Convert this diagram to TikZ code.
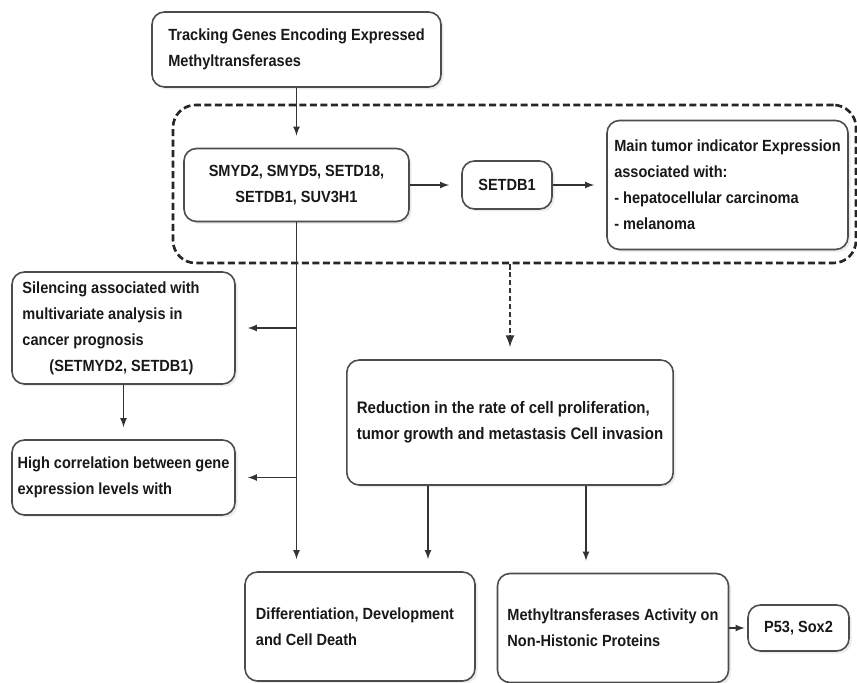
\documentclass[tikz,border=0pt]{standalone}
\usepackage{fontspec}
\setmainfont{Liberation Sans}[FakeStretch=0.9]
\usetikzlibrary{shadows}
\tikzset{
  box/.style={draw=black!70, line width=0.9pt, rounded corners=0.25cm, fill=white, align=left,
    inner xsep=0.2cm, text=black!90, font=\bfseries\fontsize{9.2}{14.8}\selectfont,
    drop shadow={shadow xshift=0.05cm, shadow yshift=-0.05cm, opacity=0.15}},
  group/.style={draw=black!85, line width=1.5pt, dash pattern=on 4pt off 2pt, rounded corners=0.45cm, inner sep=0pt},
  link/.style={draw, black!80, line width=0.8pt, ->, >=latex, shorten >=0.24cm}
}
\begin{document}
\begin{tikzpicture}
\useasboundingbox (0,0) rectangle (17.14,-13.66);
\node[group, minimum width=13.66cm, minimum height=3.16cm] (0) at (10.29,-3.68) {};
\node[box, minimum width=5.78cm, minimum height=1.5cm] (1) at (5.93,-0.99) {Tracking Genes Encoding Expressed\\Methyltransferases};
\node[box, minimum width=4.5cm, minimum height=1.46cm, align=center] (2) at (5.93,-3.7) {SMYD2, SMYD5, SETD18,\\SETDB1, SUV3H1};
\node[box, minimum width=1.8cm, minimum height=0.96cm, align=center] (3) at (10.14,-3.7) {SETDB1};
\node[box, minimum width=4.82cm, minimum height=2.58cm, inner xsep=0.08cm] (4) at (14.55,-3.7) {Main tumor indicator Expression\\associated with:\\- hepatocellular carcinoma\\- melanoma};
\node[box, minimum width=4.46cm, minimum height=2.24cm] (5) at (2.47,-6.56) {Silencing associated with\hspace*{0.5cm}\\multivariate analysis in\\cancer prognosis\\\hspace*{0.54cm}(SETMYD2, SETDB1)};
\node[box, minimum width=4.46cm, minimum height=1.5cm, inner xsep=0.08cm] (6) at (2.47,-9.55) {High correlation between gene\\expression levels with};
\node[box, minimum width=6.52cm, minimum height=2.5cm, font=\bfseries\fontsize{9.5}{14.8}\selectfont] (7) at (10.2,-8.45) {Reduction in the rate of cell proliferation,\\tumor growth and metastasis Cell invasion};
\node[box, minimum width=4.6cm, minimum height=2.18cm] (8) at (7.2,-12.53) {Differentiation, Development\hspace*{0.2cm}\\and Cell Death};
\node[box, minimum width=4.6cm, minimum height=2.18cm] (9) at (12.26,-12.56) {Methyltransferases Activity on\\Non-Histonic Proteins};
\node[box, minimum width=2.02cm, minimum height=0.92cm, align=center] (10) at (15.97,-12.56) {P53, Sox2};

\path[link] (1) -- (2);
\path[link] (2) -- (3);
\path[link] (3) -- (4);
\path[link] (2.south) -- (2.south |- 8.north);
\path[link] (2.south |- 5.east) -- (5.east);
\path[link] (2.south |- 6.east) -- (6.east);
\path[link] (5) -- (6);
\path[link, line width=1.3pt, dash pattern=on 3pt off 1.5pt] (7.north |- 0.south) -- (7.north);
\path[link] ([xshift=-1.64cm]7.south) -- ([xshift=-1.64cm]7.south |- 8.north);
\path[link] ([xshift=1.52cm]7.south) -- ([xshift=1.52cm]7.south |- 9.north);
\path[link, shorten >=0.05cm] (9) -- (10);
\end{tikzpicture}
\end{document}
